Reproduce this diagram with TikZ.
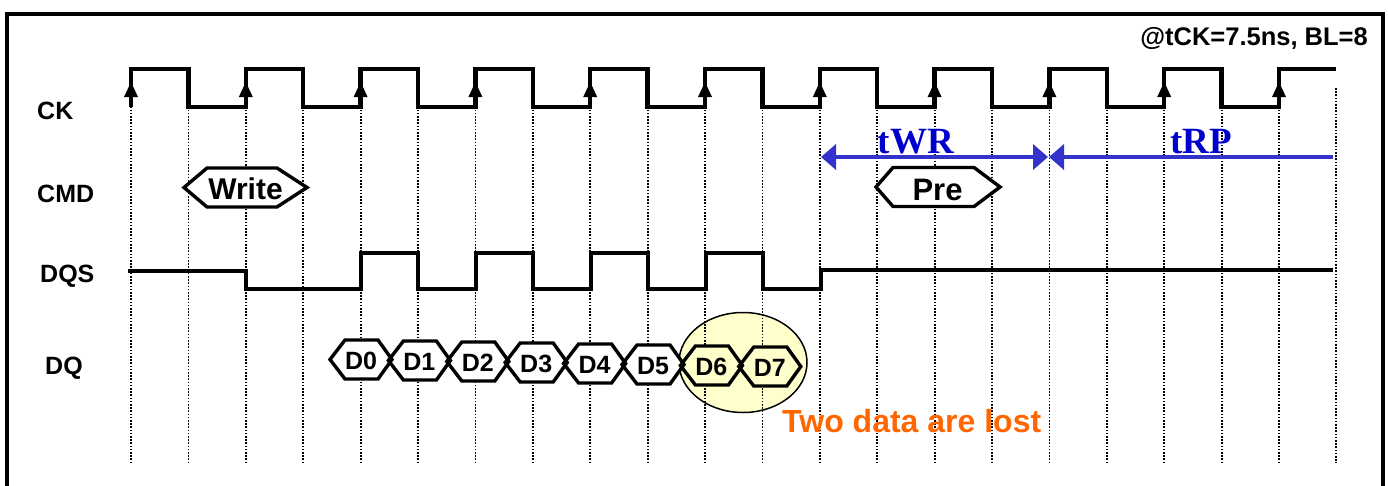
\documentclass[tikz,border=0pt]{standalone}
\usepackage{fontspec}
\setmainfont{Liberation Sans}
\newfontfamily\serifb{Liberation Serif}
\usetikzlibrary{arrows.meta}
\definecolor{arrblue}{RGB}{51,51,204}
\definecolor{txtblue}{RGB}{0,0,204}
\definecolor{lostor}{RGB}{255,102,0}
\definecolor{paley}{RGB}{255,255,204}
\begin{document}
\begin{tikzpicture}[x=1pt,y=-1pt,
  sig/.style={line width=4.5pt, line join=miter},
  gridln/.style={line width=1.8pt, dash pattern=on 1.6pt off 1.6pt},
  hexline/.style={line width=3.4pt, line join=miter},
  lbl/.style={font=\fontsize{25}{25}\selectfont\bfseries, inner sep=0pt},
  cmdtxt/.style={font=\fontsize{30}{30}\selectfont\bfseries, inner sep=0pt, anchor=base},
  dtxt/.style={font=\fontsize{25}{25}\selectfont\bfseries, inner sep=0pt},
  ttxt/.style={font=\serifb\fontsize{37}{37}\selectfont\bfseries, text=txtblue, inner sep=0pt, anchor=base},
  tarrow/.style={draw=arrblue, line width=4.5pt}
]
\useasboundingbox (0,0) rectangle (1388,485);
\clip (0,0) rectangle (1388,485);
\fill[white] (0,0) rectangle (1388,485);

% lost-data ellipse
\draw[fill=paley, line width=1.5pt] (743,362.5) ellipse [x radius=64, y radius=50];

% dotted grid
\foreach \k in {0,...,20} {
  \draw[gridln] ({131+57.4*\k},100) -- ({131+57.4*\k},463);
}
\draw[gridln] (1336,88) -- (1336,463);

% clock
\draw[sig] (131,107)
  \foreach \k in {0,2,...,18} {
    -- ({131+57.4*\k},69) -- ({131+57.4*(\k+1)},69)
    -- ({131+57.4*(\k+1)},107) -- ({131+57.4*(\k+2)},107)
  }
  -- ({131+57.4*20},69) -- (1336,69);
\foreach \k in {0,2,...,20} {
  \fill ({131+57.4*\k-7},97) -- ({131+57.4*\k},82) -- ({131+57.4*\k+7},97) -- cycle;
}

% DQS
\draw[sig] (128,271) -- (246,271) -- (246,289) -- (361,289) -- (361,253)
  -- (418,253) -- (418,289) -- (476,289) -- (476,253) -- (533,253) -- (533,289)
  -- (591,289) -- (591,253) -- (648,253) -- (648,289) -- (706,289) -- (706,253)
  -- (763,253) -- (763,289) -- (821,289) -- (821,270) -- (1333,270);

% CMD hexagons
\draw[hexline, fill=white] (184,187.5) -- (207,168) -- (277,168) -- (307,187.5) -- (277,207) -- (207,207) -- cycle;
\node[cmdtxt] (write) at (245.5,199) {Write};
\draw[hexline, fill=white] (876,187) -- (893,167.5) -- (974,167.5) -- (1000,187) -- (974,206.5) -- (893,206.5) -- cycle;
\node[cmdtxt, font=\fontsize{31}{31}\selectfont\bfseries] (pre) at (937.5,200) {Pre};

% DQ hexagons
\foreach \i in {0,...,7} {
  \pgfmathsetmacro\cx{361+58.4*\i}
  \pgfmathsetmacro\cy{359.5+\i}
  \ifnum\i>5 \def\hf{paley}\else\def\hf{white}\fi
  \fill[\hf] ({\cx-31},\cy) -- ({\cx-16},{\cy-19.5}) -- ({\cx+17},{\cy-19.5}) -- ({\cx+31},\cy) -- ({\cx+17},{\cy+19.5}) -- ({\cx-16},{\cy+19.5}) -- cycle;
}
\foreach \i in {0,...,7} {
  \pgfmathsetmacro\cx{361+58.4*\i}
  \pgfmathsetmacro\cy{359.5+\i}
  \draw[hexline] ({\cx-31},\cy) -- ({\cx-16},{\cy-19.5}) -- ({\cx+17},{\cy-19.5}) -- ({\cx+31},\cy) -- ({\cx+17},{\cy+19.5}) -- ({\cx-16},{\cy+19.5}) -- cycle;
  \node[dtxt] (d\i) at (\cx,{\cy+1.5}) {D\i};
}

% timing arrows
\coordinate (twrA) at (821,157);
\coordinate (twrB) at (1048,157);
\coordinate (trpA) at (1049,157);
\coordinate (trpB) at (1333,157);
\draw[tarrow, {Triangle[length=15pt,width=25pt]}-{Triangle[length=15pt,width=25pt]}] (twrA) -- (twrB);
\draw[tarrow, {Triangle[length=15pt,width=25pt]}-] (trpA) -- (trpB);
\node[ttxt] (twr) at (916,153) {tWR};
\node[ttxt] (trp) at (1201,153) {tRP};

% labels
\node[lbl, anchor=base west] (ckl) at (37,119) {CK};
\node[lbl, anchor=base west] (cmdl) at (37,202) {CMD};
\node[lbl, anchor=base west] (dqsl) at (40,282) {DQS};
\node[lbl, anchor=base west] (dql) at (45,374) {DQ};
\node[font=\fontsize{25.5}{25.5}\selectfont\bfseries, inner sep=0pt, anchor=base east] (note) at (1368,45) {@tCK=7.5ns, BL=8};
\node[font=\fontsize{32}{32}\selectfont\bfseries, text=lostor, inner sep=0pt, anchor=base west] (lost) at (782,432) {Two data are lost};

% frame
\draw[line width=4pt] (7,13.5) rectangle (1383,520);
\end{tikzpicture}
\end{document}
